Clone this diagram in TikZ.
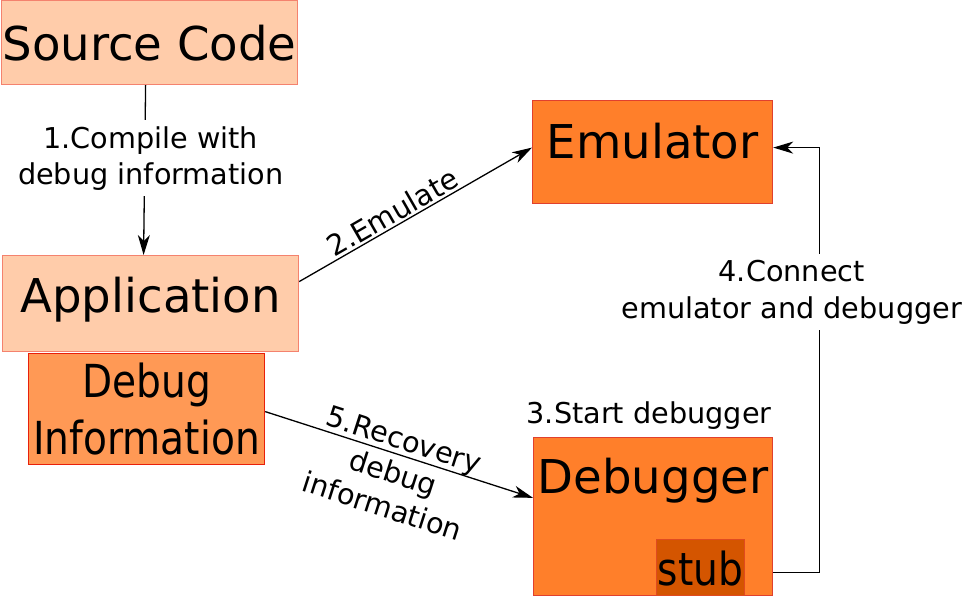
\documentclass[tikz,border=0pt]{standalone}
\usepackage{fontspec}
\setmainfont{DejaVu Sans}
\newfontfamily\condfont[FakeStretch=0.86]{DejaVu Sans}
\usetikzlibrary{arrows.meta,calc}
\definecolor{peach}{HTML}{FFCCAA}
\definecolor{peachline}{HTML}{F4826E}
\definecolor{debugfill}{HTML}{FF9955}
\definecolor{debugline}{HTML}{E8200A}
\definecolor{orangefill}{HTML}{FF7F2A}
\definecolor{orangeline}{HTML}{E0402E}
\definecolor{stubfill}{HTML}{D45500}
\definecolor{stubline}{HTML}{E04A20}
\begin{document}
\begin{tikzpicture}[x=1pt,y=-1pt,
  box/.style={rectangle, inner sep=0pt, line width=1.2pt, anchor=north west},
  big/.style={font=\fontsize{46.6}{55}\selectfont},
  cond/.style={font=\condfont\fontsize{45.5}{57}\selectfont, align=center},
  lbl/.style={font=\fontsize{28.7}{36}\selectfont, align=center},
  conn/.style={line width=1.3pt, -{Stealth[length=20pt,width=12pt,inset=6pt]}},
]
\useasboundingbox (0,0) rectangle (963,596);
% boxes
\node[box, big, fill=peach, draw=peachline, minimum width=296pt,
      text height=60pt, text depth=24pt] (src) at (1,0) {Source Code};
\node[box, big, fill=peach, draw=peachline, minimum width=296pt,
      text height=57pt, text depth=39pt] (app) at (2,255) {Application};
\node[box, cond, fill=debugfill, draw=debugline, minimum width=236pt,
      minimum height=111pt] (dinfo) at (28,353) {Debug\\Information};
\node[box, big, fill=orangefill, draw=orangeline, minimum width=240pt,
      text height=58pt, text depth=45pt] (emu) at (532,100) {Emulator};
\node[box, big, fill=orangefill, draw=orangeline, minimum width=239pt,
      text height=56.5pt, text depth=102pt] (dbg) at (533,436.5) {Debugger\hspace{3pt}};
\node[box, cond, fill=stubfill, draw=stubline, minimum width=88pt,
      text height=46pt, text depth=10pt] (stub) at (656,539) {stub};
\node[lbl, anchor=base] (start) at ([shift={(-4,-13.5)}]dbg.north) {3.Start debugger};
% connectors
\draw[conn] ([xshift=-4pt]src.south) --
  node[lbl, fill=white, pos=0.43, xshift=6pt, inner sep=6pt] {1.Compile with\\debug information}
  ([xshift=-7pt]app.north);
\draw[conn] ([yshift=22pt]app.east) --
  node[lbl, sloped, above, pos=0.43, inner sep=2pt] {2.Emulate}
  ([yshift=4.5pt]emu.west);
\draw[conn] ([yshift=-2.5pt]dinfo.east) --
  node[lbl, font=\fontsize{28.7}{35}\selectfont, sloped, pos=0.5, yshift=-19pt] {5.Recovery\\debug\\information}
  ([yshift=18.5pt]dbg.west);
\coordinate (s0) at ([yshift=-5pt]stub.east);
\draw[conn] (dbg.east |- s0) -- ++(46,0) |-
  node[lbl, font=\fontsize{28.7}{37}\selectfont, fill=white, pos=0.33, xshift=-27.5pt, inner sep=6pt] {4.Connect\\emulator and debugger}
  ([yshift=4.5pt]emu.east);
\end{tikzpicture}
\end{document}
